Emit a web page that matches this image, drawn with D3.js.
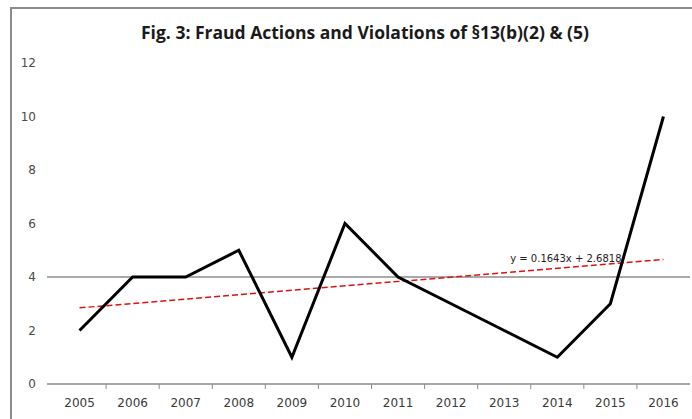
<!DOCTYPE html>
<html>
<head>
<meta charset="utf-8">
<script src="https://cdn.jsdelivr.net/npm/d3@7"></script>
<style>
  body { margin: 0; background: #fff; }
  svg { display: block; }
  .tick text { font-family: "DejaVu Sans", sans-serif; fill: #3a3a3a; }
</style>
</head>
<body>
<svg id="chart"></svg>
<script>
// Data
const years = ['2005', '2006', '2007', '2008', '2009', '2010', '2011', '2012', '2013', '2014', '2015', '2016'];
const actions = [2, 4, 4, 5, 1, 6, 4, 3, 2, 1, 3, 10];
const yTicks = [0, 2, 4, 6, 8, 10, 12];
const refLine = 4;

const width = 692, height = 419;
const margin = {top: 63, right: 2, bottom: 35, left: 53};
const innerW = width - margin.left - margin.right;
const innerH = height - margin.top - margin.bottom;

const svg = d3.select('#chart')
    .attr('width', width)
    .attr('height', height);

// chart frame (only top/left visible in the crop)
svg.append('rect')
    .attr('x', 11).attr('y', 8)
    .attr('width', 720).attr('height', 440)
    .attr('fill', 'none')
    .attr('stroke', '#8c8c8c')
    .attr('stroke-width', 2);

svg.append('text')
    .attr('x', 365)
    .attr('y', 39)
    .attr('text-anchor', 'middle')
    .style('font-family', '"Open Sans", sans-serif')
    .style('font-weight', 'bold')
    .style('font-size', '17.5px')
    .style('fill', '#1a1a1a')
    .text('Fig. 3: Fraud Actions and Violations of §13(b)(2) & (5)');

const chart = svg.append('g')
    .attr('transform', `translate(${margin.left},${margin.top})`);

const xScale = d3.scaleBand()
    .domain(years)
    .range([0, innerW]);

const yScale = d3.scaleLinear()
    .domain([0, 12])
    .range([innerH, 0]);

const xPos = d => xScale(d) + xScale.bandwidth() / 2;

// y labels, no axis line
const yAxis = d3.axisLeft(yScale)
    .tickValues(yTicks)
    .tickSize(0)
    .tickPadding(17);
chart.append('g')
    .call(yAxis)
    .call(g => g.select('.domain').remove())
    .selectAll('text')
    .style('font-size', '12px')
    .style('fill', '#4a4a4a');

// single horizontal line at 4
chart.append('line')
    .attr('x1', -6).attr('x2', innerW)
    .attr('y1', yScale(refLine)).attr('y2', yScale(refLine))
    .attr('stroke', '#8c8c8c')
    .attr('stroke-width', 1.5);

// category axis: labels centred in bands, ticks on band boundaries
const xAxis = d3.axisBottom(xScale)
    .tickSize(0)
    .tickPadding(14);
chart.append('g')
    .attr('transform', `translate(0,${innerH})`)
    .call(xAxis)
    .call(g => g.select('.domain').remove())
    .selectAll('text')
    .style('font-size', '12px');

chart.append('line')
    .attr('x1', -6).attr('x2', innerW)
    .attr('y1', innerH).attr('y2', innerH)
    .attr('stroke', '#8c8c8c')
    .attr('stroke-width', 1.5);

chart.selectAll('.xtick')
    .data(years.slice(1))
    .join('line')
    .attr('class', 'xtick')
    .attr('x1', d => xScale(d)).attr('x2', d => xScale(d))
    .attr('y1', innerH).attr('y2', innerH + 5)
    .attr('stroke', '#8c8c8c')
    .attr('stroke-width', 1);

// least-squares trendline over category index 1..n
const n = actions.length;
const xs = actions.map((d, i) => i + 1);
const mx = d3.mean(xs), my = d3.mean(actions);
const slope = d3.sum(xs, (x, i) => (x - mx) * (actions[i] - my)) / d3.sum(xs, x => (x - mx) ** 2);
const intercept = my - slope * mx;

chart.append('line')
    .attr('x1', xPos(years[0]))
    .attr('y1', yScale(slope * 1 + intercept))
    .attr('x2', xPos(years[n - 1]))
    .attr('y2', yScale(slope * n + intercept))
    .attr('stroke', '#e01010')
    .attr('stroke-width', 1.5)
    .attr('stroke-dasharray', '6,3');

// main series
const line = d3.line()
    .x((d, i) => xPos(years[i]))
    .y(d => yScale(d));

chart.append('path')
    .datum(actions)
    .attr('d', line)
    .attr('fill', 'none')
    .attr('stroke', '#000')
    .attr('stroke-width', 3)
    .attr('stroke-linejoin', 'miter');

chart.append('text')
    .attr('x', xPos('2013') + 6)
    .attr('y', yScale(4.55))
    .style('font-family', '"DejaVu Sans", sans-serif')
    .style('font-size', '10px')
    .style('fill', '#222')
    .text(`y = ${slope.toFixed(4)}x + ${intercept.toFixed(4)}`);
</script>
</body>
</html>
